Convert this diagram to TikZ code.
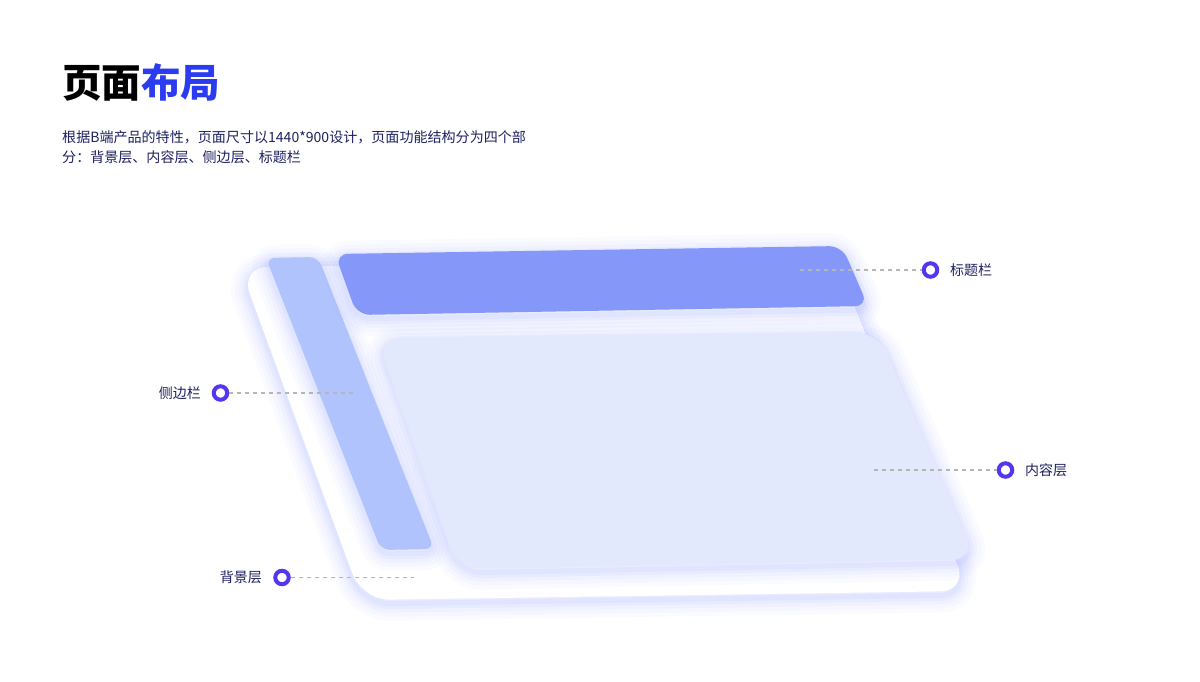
\documentclass[tikz,border=0pt]{standalone}
\usepackage{fontspec}
\setmainfont{Noto Sans CJK SC}
\definecolor{titleblue}{HTML}{2B3CF0}
\definecolor{navy}{HTML}{1E2160}
\definecolor{barc}{HTML}{8598F9}
\definecolor{sidec}{HTML}{B0C3FD}
\definecolor{contc}{HTML}{E3E9FD}
\definecolor{glowc}{HTML}{8C9EFF}
\definecolor{ringc}{HTML}{5236F0}
\definecolor{dashc}{HTML}{B5B5B5}
\newcommand\glowpath[2]{%
  \foreach \w/\o in {34/0.035,26/0.045,18/0.055,11/0.07,5/0.09}{%
    \draw[glowc, line width=\w pt, draw opacity=\o, line join=round, rounded corners=#1, yshift=-4pt] #2;}}
\begin{document}
\begin{tikzpicture}[x=1pt,y=-1pt,
  ring/.style={circle, draw=ringc, line width=4pt, fill=white, minimum size=13.5pt, inner sep=0pt},
  dashl/.style={draw=dashc, line width=1.5pt, dash pattern=on 4pt off 4pt},
  lab/.style={inner sep=0pt, text=navy, font=\fontsize{14}{16}\selectfont},
  sub/.style={inner sep=0pt, anchor=base west, text=navy, font=\fontsize{14.05}{20}\selectfont}]
\useasboundingbox (0,0) rectangle (1200,682);
\fill[white] (0,0) rectangle (1200,682);

% title and subtitle
\node[inner sep=0pt, anchor=base west, font=\fontsize{39.5}{42}\selectfont\bfseries] (title) at (62,97.5) {页面\textcolor{titleblue}{布局}};
\node[sub] (sub1) at (62,143) {根据B端产品的特性，页面尺寸以1440*900设计，页面功能结构分为四个部};
\node[sub] (sub2) at (62,163) {分：背景层、内容层、侧边层、标题栏};

% background layer
\glowpath{28}{(240,267) -- (836,260) -- (968,591) -- (362,600) -- cycle}
\fill[white, rounded corners=28] (240,267) -- (836,260) -- (968,591) -- (362,600) -- cycle;

% sidebar
\glowpath{9}{(266,258) -- (318,257) -- (434,549) -- (381,550) -- cycle}
\fill[sidec, rounded corners=9] (266,258) -- (318,257) -- (434,549) -- (381,550) -- cycle;

% title bar
\glowpath{13}{(335,254) -- (842,246) -- (868,306) -- (357,315) -- cycle}
\fill[barc, rounded corners=13] (335,254) -- (842,246) -- (868,306) -- (357,315) -- cycle;

% content layer
\glowpath{24}{(377,338) -- (878,332) -- (976,559) -- (458,569) -- cycle}
\fill[contc, rounded corners=24] (377,338) -- (878,332) -- (976,559) -- (458,569) -- cycle;

% callouts
\node[ring] (mTitle) at (930.5,270) {};
\coordinate (dTitle) at (800,270);
\draw[dashl] (dTitle) -- (mTitle);
\node[lab, anchor=west] (lTitle) at (950,270) {标题栏};

\node[ring] (mSide) at (220.5,393) {};
\coordinate (dSide) at (353,393);
\draw[dashl] (mSide) -- (dSide);
\node[lab, anchor=east] (lSide) at (201,393) {侧边栏};

\node[ring] (mCont) at (1005.5,470) {};
\coordinate (dCont) at (874,470);
\draw[dashl] (dCont) -- (mCont);
\node[lab, anchor=west] (lCont) at (1025,470) {内容层};

\node[ring] (mBg) at (282,577.5) {};
\coordinate (dBg) at (414,577.5);
\draw[dashl] (mBg) -- (dBg);
\node[lab, anchor=east] (lBg) at (262,577.5) {背景层};
\end{tikzpicture}
\end{document}
